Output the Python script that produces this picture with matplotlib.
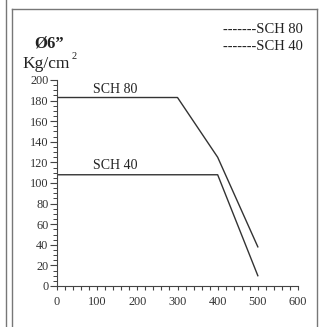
import matplotlib
matplotlib.use('Agg')
from matplotlib import pyplot as plt
from matplotlib.lines import Line2D
from matplotlib.ticker import MultipleLocator

# pressure rating curves (temperature -> Kg/cm2)
sch80_x = [0, 300, 400, 500]
sch80_y = [183, 183, 125, 38]
sch40_x = [0, 400, 500]
sch40_y = [108, 108, 10]
x_ticks = [0, 100, 200, 300, 400, 500, 600]
y_ticks = [0, 20, 40, 60, 80, 100, 120, 140, 160, 180, 200]

W, H = 322, 327
plt.rcParams['font.family'] = ['Liberation Serif', 'DejaVu Serif']

fig = plt.figure(figsize=(W / 100, H / 100), dpi=100)


def fx(px):
    return px / W


def fy(py):
    return 1 - py / H


ax = fig.add_axes([fx(57), fy(286), fx(298) - fx(57), fy(80) - fy(286)])
ax.plot(sch80_x, sch80_y, color='#333333', lw=1.0)
ax.plot(sch40_x, sch40_y, color='#333333', lw=1.0)
ax.set_xlim(0, 600)
ax.set_ylim(0, 200)
ax.set_xticks(x_ticks)
ax.set_yticks(y_ticks)
ax.xaxis.set_minor_locator(MultipleLocator(20))
ax.yaxis.set_minor_locator(MultipleLocator(5))
for s in ['top', 'right']:
    ax.spines[s].set_visible(False)
for s in ['left', 'bottom']:
    ax.spines[s].set_color('#444444')
    ax.spines[s].set_linewidth(0.8)
ax.tick_params(axis='y', which='major', length=5, width=0.8, color='#444444',
               pad=1.2, labelsize=8.8, labelcolor='#333333')
ax.tick_params(axis='y', which='minor', length=3.2, width=0.7, color='#444444')
ax.tick_params(axis='x', which='both', length=3, width=0.8, color='#444444')
ax.tick_params(axis='x', which='major', pad=4.5, labelsize=8.8, labelcolor='#333333')
ax.patch.set_visible(False)

ax.text(145, 187, 'SCH 80', ha='center', va='baseline', fontsize=10, color='#222222')
ax.text(145, 113.5, 'SCH 40', ha='center', va='baseline', fontsize=10, color='#222222')

fig.text(fx(34), fy(47), 'Ø6”', fontsize=12, fontweight='bold', va='baseline', color='#222222')
fig.text(fx(22), fy(68), 'Kg/cm', fontsize=12.5, va='baseline', color='#222222')
fig.text(fx(71.5), fy(59), '2', fontsize=7.5, va='baseline', color='#222222')

fig.text(fx(303), fy(33), '-------SCH 80', fontsize=10.5, ha='right', va='baseline', color='#222222')
fig.text(fx(303), fy(50), '-------SCH 40', fontsize=10.5, ha='right', va='baseline', color='#222222')

# table frame around the chart
frame = dict(color='#777777', lw=1.0, transform=fig.transFigure)
fig.add_artist(Line2D([fx(5.5), fx(5.5)], [0, 1], **frame))
fig.add_artist(Line2D([fx(11.5), fx(11.5)], [0, fy(9)], **frame))
fig.add_artist(Line2D([fx(11.5), fx(317)], [fy(9), fy(9)], **frame))
fig.add_artist(Line2D([fx(317), fx(317)], [fy(9), 0], **frame))

fig.savefig('out.png', dpi=100)
